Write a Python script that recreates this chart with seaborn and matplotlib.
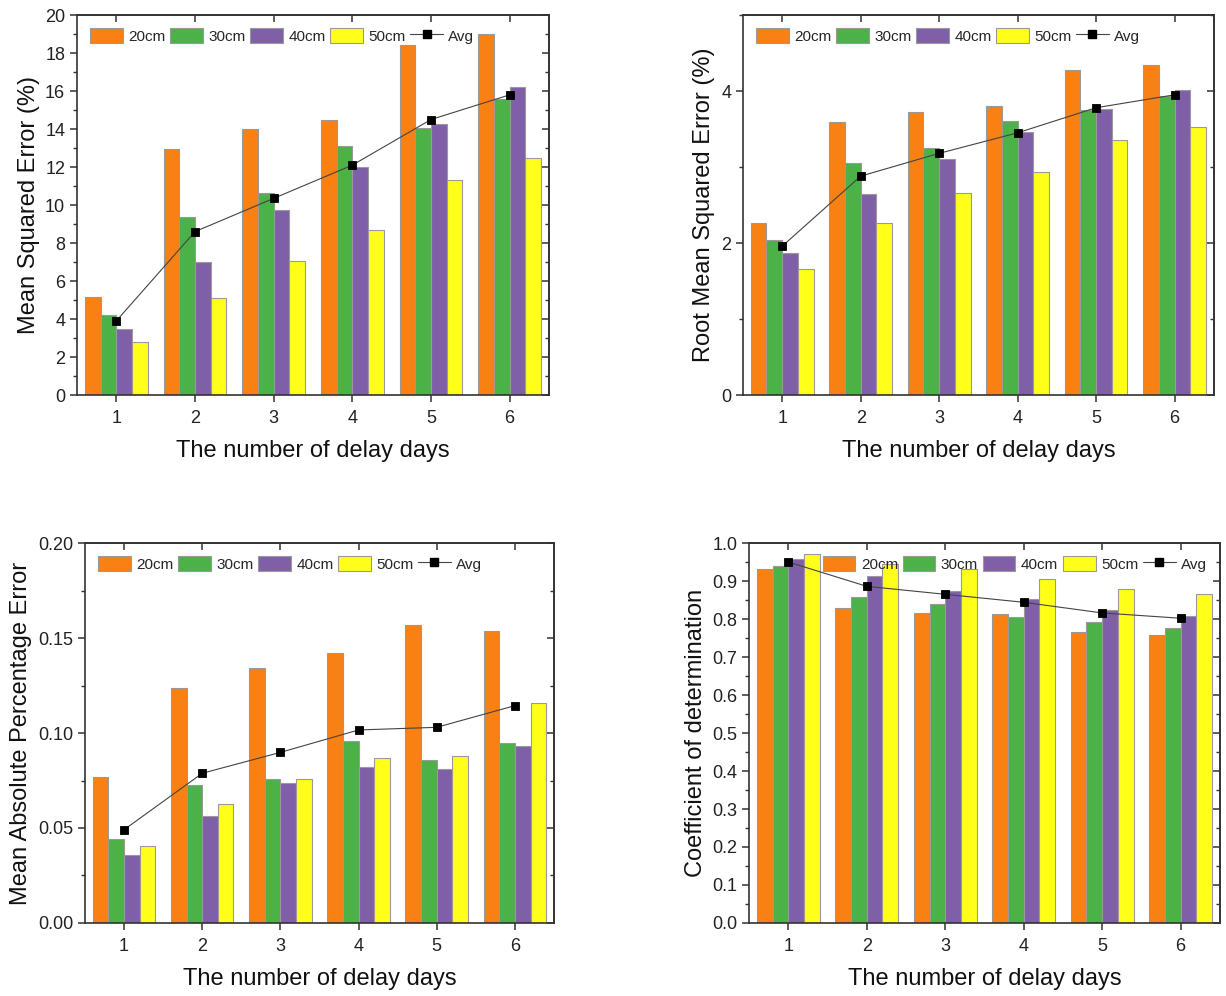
import matplotlib
matplotlib.use("Agg")
import matplotlib.pyplot as plt
import matplotlib.patches as mpatches
import matplotlib.lines as mlines
from matplotlib.ticker import MultipleLocator, FormatStrFormatter
import seaborn as sns
import pandas as pd

days = ["1", "2", "3", "4", "5", "6"]
depths = ["20cm", "30cm", "40cm", "50cm"]
colors = ["#F98012", "#4CB147", "#7F5FA8", "#FFFF1A"]

mse_20 = [5.15, 12.95, 14.0, 14.5, 18.4, 19.0]
mse_30 = [4.2, 9.35, 10.65, 13.1, 14.05, 15.6]
mse_40 = [3.5, 7.0, 9.75, 12.0, 14.25, 16.2]
mse_50 = [2.8, 5.1, 7.05, 8.7, 11.3, 12.5]
mse_avg = [3.9, 8.6, 10.35, 12.1, 14.5, 15.8]

rmse_20 = [2.265, 3.59, 3.73, 3.80, 4.28, 4.34]
rmse_30 = [2.04, 3.05, 3.25, 3.60, 3.75, 3.94]
rmse_40 = [1.866, 2.64, 3.11, 3.46, 3.76, 4.01]
rmse_50 = [1.664, 2.26, 2.66, 2.94, 3.355, 3.53]
rmse_avg = [1.958, 2.88, 3.18, 3.45, 3.78, 3.95]

mape_20 = [0.0767, 0.1237, 0.134, 0.1419, 0.1568, 0.1539]
mape_30 = [0.044, 0.0726, 0.076, 0.0958, 0.086, 0.0947]
mape_40 = [0.036, 0.0563, 0.0739, 0.0819, 0.081, 0.093]
mape_50 = [0.0404, 0.0625, 0.076, 0.0868, 0.0877, 0.116]
mape_avg = [0.0491, 0.0788, 0.0898, 0.1016, 0.103, 0.1144]

r2_20 = [0.932, 0.829, 0.816, 0.813, 0.766, 0.758]
r2_30 = [0.939, 0.858, 0.840, 0.805, 0.793, 0.777]
r2_40 = [0.959, 0.912, 0.874, 0.853, 0.824, 0.809]
r2_50 = [0.970, 0.945, 0.931, 0.906, 0.879, 0.867]
r2_avg = [0.950, 0.886, 0.865, 0.844, 0.816, 0.802]

ylabel_texts = ["Mean Squared Error (%)", "Root Mean Squared Error (%)",
                "Mean Absolute Percentage Error", "Coefficient of determination"]
xlabel_text = "The number of delay days"

sns.set_style("ticks")
plt.rcParams["font.family"] = ["Liberation Sans", "DejaVu Sans"]

fig = plt.figure(figsize=(12.26, 9.96), dpi=100)

panels = [
    dict(series=[mse_20, mse_30, mse_40, mse_50], avg=mse_avg, rect=[0.0628, 0.6034, 0.385, 0.3815],
         ylim=(0, 20), major=2, minor=1, fmt="%d", legend_loc=(0.0, 1.0), legend_anchor="upper left"),
    dict(series=[rmse_20, rmse_30, rmse_40, rmse_50], avg=rmse_avg, rect=[0.606, 0.6034, 0.384, 0.3815],
         ylim=(0, 5), major=2, minor=1, fmt="%d", legend_loc=(0.0, 1.0), legend_anchor="upper left"),
    dict(series=[mape_20, mape_30, mape_40, mape_50], avg=mape_avg, rect=[0.0693, 0.0733, 0.3826, 0.3815],
         ylim=(0, 0.2), major=0.05, minor=0.025, fmt="%.2f", legend_loc=(0.0, 1.0), legend_anchor="upper left"),
    dict(series=[r2_20, r2_30, r2_40, r2_50], avg=r2_avg, rect=[0.611, 0.0733, 0.384, 0.3815],
         ylim=(0, 1.0), major=0.1, minor=0.05, fmt="%.1f", legend_loc=(1.0, 1.0), legend_anchor="upper right"),
]

spine_c = "#333333"
for i, p in enumerate(panels):
    ax = fig.add_axes(p["rect"])
    rows = []
    for d, vals in zip(depths, p["series"]):
        for day, v in zip(days, vals):
            rows.append({"day": day, "depth": d, "value": v})
    df = pd.DataFrame(rows)
    sns.barplot(data=df, x="day", y="value", hue="depth", hue_order=depths, order=days,
                palette=colors, width=0.8, edgecolor="#9a9a9a", linewidth=0.8,
                saturation=1, ax=ax, legend=False, errorbar=None)
    sns.pointplot(x=days, y=p["avg"], order=days, color="black", markers="s",
                  linestyles="-", linewidth=0.8, markersize=6, errorbar=None, ax=ax)
    for l in ax.lines:
        l.set_color("#444444")
        l.set_markerfacecolor("black")
        l.set_markeredgecolor("black")
        l.set_zorder(5)
    ax.set_xlim(-0.5, 5.5)
    ax.set_ylim(*p["ylim"])
    ax.yaxis.set_major_locator(MultipleLocator(p["major"]))
    ax.yaxis.set_minor_locator(MultipleLocator(p["minor"]))
    ax.yaxis.set_major_formatter(FormatStrFormatter(p["fmt"]))
    ax.set_xlabel(xlabel_text, fontsize=17, labelpad=9, color="#111111")
    ax.set_ylabel(ylabel_texts[i], fontsize=17, labelpad=4, color="#111111")
    ax.tick_params(axis="both", which="major", labelsize=13, length=5, width=1.1,
                   color=spine_c, labelcolor="#222222", direction="out")
    ax.tick_params(axis="x", which="major", pad=6)
    ax.tick_params(axis="y", which="minor", length=3, width=1.0, color=spine_c, direction="out")
    for s in ax.spines.values():
        s.set_visible(True)
        s.set_color(spine_c)
        s.set_linewidth(1.2)

    top = ax.secondary_xaxis("top")
    top.set_xticks(range(len(days)))
    top.tick_params(axis="x", direction="in", length=5, width=1.1, color=spine_c, labeltop=False)
    top.set_xticklabels([])
    top.spines["top"].set_color(spine_c)
    top.spines["top"].set_linewidth(1.2)

    right = ax.secondary_yaxis("right")
    right.yaxis.set_major_locator(MultipleLocator(p["major"]))
    right.yaxis.set_minor_locator(MultipleLocator(p["minor"]))
    right.tick_params(axis="y", which="major", direction="in", length=5, width=1.1, color=spine_c, labelright=False)
    right.tick_params(axis="y", which="minor", direction="in", length=3, width=1.0, color=spine_c)
    right.spines["right"].set_color(spine_c)
    right.spines["right"].set_linewidth(1.2)

    handles = [mpatches.Patch(facecolor=c, edgecolor="#9a9a9a", linewidth=0.8, label=d)
               for c, d in zip(colors, depths)]
    handles.append(mlines.Line2D([], [], color="#444444", lw=0.8, marker="s", markersize=6,
                                 markerfacecolor="black", markeredgecolor="black", label="Avg"))
    ax.legend(handles=handles, ncol=5, frameon=False, fontsize=11,
              loc=p["legend_anchor"], bbox_to_anchor=p["legend_loc"],
              handlelength=2.15, handleheight=1.15, handletextpad=0.35, columnspacing=0.3,
              borderaxespad=0.45, borderpad=0.4)

fig.savefig("out.png", dpi=100)
